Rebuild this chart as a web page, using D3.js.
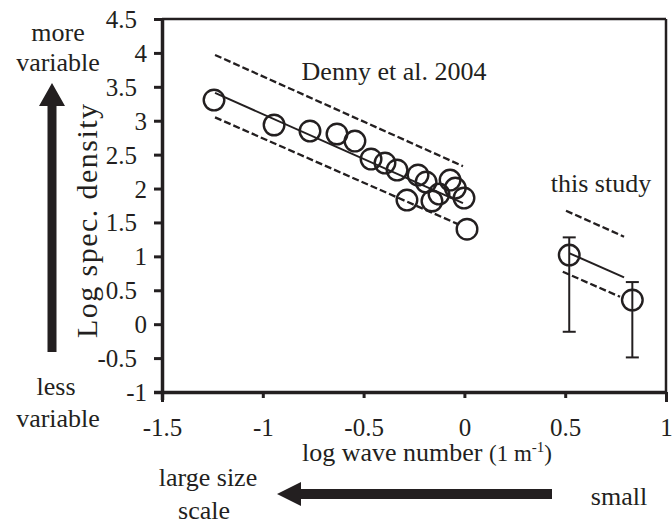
<!DOCTYPE html>
<html>
<head>
<meta charset="utf-8">
<script src="https://cdn.jsdelivr.net/npm/d3@7/dist/d3.min.js"></script>
<style>
  html, body { margin: 0; padding: 0; background: #fff; }
  svg { display: block; }
  text { font-family: "Liberation Serif", "Times New Roman", serif; fill: #231f20; }
</style>
</head>
<body>
<svg id="chart" width="672" height="525"></svg>
<script>
// ---------- data ----------
const xTicks = [-1.5, -1, -0.5, 0, 0.5, 1];
const xTickLabels = ["-1.5", "-1", "-0.5", "0", "0.5", "1"];
const yTicks = [-1, -0.5, 0, 0.5, 1, 1.5, 2, 2.5, 3, 3.5, 4, 4.5];
const yTickLabels = ["-1", "-0.5", "0", "0.5", "1", "1.5", "2", "2.5", "3", "3.5", "4", "4.5"];

// Denny et al. 2004 points
const dennyX = [-1.242, -0.944, -0.766, -0.632, -0.543, -0.463, -0.394, -0.334, -0.230, -0.190, -0.285, -0.161, -0.126, -0.071, -0.045, -0.002, 0.013];
const dennyY = [3.305, 2.937, 2.848, 2.804, 2.70, 2.435, 2.376, 2.273, 2.199, 2.096, 1.83, 1.816, 1.919, 2.125, 2.007, 1.86, 1.40];
// Denny fit and bounds: [x0, x1], [y0, y1]
const dennyFitX = [-1.237, -0.007];
const dennyFitY = [3.41, 1.786];
const dennyUpperX = [-1.237, -0.007];
const dennyUpperY = [3.97, 2.33];
const dennyLowerX = [-1.237, -0.032];
const dennyLowerY = [3.05, 1.476];

// this study
const studyX = [0.520, 0.833];
const studyY = [1.019, 0.356];
const studyErrLow = [-0.112, -0.49];
const studyErrHigh = [1.28, 0.621];
const studyFitX = [0.522, 0.792];
const studyFitY = [1.045, 0.691];
const studyUpperX = [0.504, 0.792];
const studyUpperY = [1.673, 1.29];
const studyLowerX = [0.488, 0.772];
const studyLowerY = [0.773, 0.404];

// ---------- chart ----------
const ink = "#231f20";
const svg = d3.select("#chart");
const x = d3.scaleLinear().domain([-1.5, 1]).range([162, 666]);
const y = d3.scaleLinear().domain([-1, 4.5]).range([392, 19]);

// frame top/right
svg.append("line").attr("x1", x(-1.5)).attr("x2", x(1)).attr("y1", y(4.5)).attr("y2", y(4.5))
  .attr("stroke", ink).attr("stroke-width", 2.5);
svg.append("line").attr("x1", x(1)).attr("x2", x(1)).attr("y1", y(4.5)).attr("y2", y(-1))
  .attr("stroke", ink).attr("stroke-width", 2.5);

// y axis
const yAxis = svg.append("g").attr("transform", `translate(${x(-1.5)},0)`)
  .call(d3.axisLeft(y).tickValues(yTicks).tickSize(8).tickSizeOuter(0)
    .tickFormat((d, i) => yTickLabels[i]));
yAxis.select(".domain").attr("stroke", ink).attr("stroke-width", 3.5)
  .attr("d", `M0.5,${y(4.5) - 1}V${y(-1) + 8}`);
yAxis.selectAll(".tick line").attr("stroke", ink).attr("stroke-width", 3);
yAxis.selectAll(".tick text")
  .attr("x", (d, i) => Number.isInteger(d) ? -15 : -25)
  .attr("dy", "0.34em")
  .style("font-size", "25px").style("font-family", "Liberation Serif").attr("fill", ink);

// x axis
const xAxis = svg.append("g").attr("transform", `translate(0,${y(-1)})`)
  .call(d3.axisBottom(x).tickValues(xTicks).tickSize(6).tickSizeOuter(0)
    .tickFormat((d, i) => xTickLabels[i]));
xAxis.select(".domain").attr("stroke", ink).attr("stroke-width", 3.5)
  .attr("d", `M${x(-1.5) - 8},0.5H${x(1) + 1}`);
xAxis.selectAll(".tick line").attr("stroke", ink).attr("stroke-width", 3)
  .attr("y2", d => (d === -1.5 || d === 1) ? 10 : 6);
xAxis.selectAll(".tick text").attr("y", 35).attr("dy", "0.34em")
  .style("font-size", "25px").style("font-family", "Liberation Serif").attr("fill", ink);

// lines
const line = d3.line().x(d => x(d[0])).y(d => y(d[1]));
function seg(xs, ys, dashed, w) {
  svg.append("path")
    .attr("d", line(xs.map((v, i) => [v, ys[i]])))
    .attr("fill", "none").attr("stroke", ink).attr("stroke-width", w)
    .attr("stroke-dasharray", dashed ? "7,3" : null);
}
seg(dennyUpperX, dennyUpperY, true, 2.3);
seg(dennyLowerX, dennyLowerY, true, 2.3);
seg(dennyFitX, dennyFitY, false, 2);
seg(studyUpperX, studyUpperY, true, 2.3);
seg(studyLowerX, studyLowerY, true, 2.3);
seg(studyFitX, studyFitY, false, 2);

// error bars
const eb = svg.append("g");
studyX.forEach((xv, i) => {
  eb.append("line").attr("x1", x(xv)).attr("x2", x(xv))
    .attr("y1", y(studyErrHigh[i])).attr("y2", y(studyErrLow[i]))
    .attr("stroke", ink).attr("stroke-width", 2);
  [studyErrHigh[i], studyErrLow[i]].forEach(v => {
    eb.append("line").attr("x1", x(xv) - 6.5).attr("x2", x(xv) + 6.5)
      .attr("y1", y(v)).attr("y2", y(v)).attr("stroke", ink).attr("stroke-width", 2);
  });
});

// circles
svg.append("g").selectAll("circle")
  .data(dennyX.map((v, i) => [v, dennyY[i]]).concat(studyX.map((v, i) => [v, studyY[i]])))
  .join("circle")
  .attr("cx", d => x(d[0])).attr("cy", d => y(d[1])).attr("r", 10.3)
  .attr("fill", "none").attr("stroke", ink).attr("stroke-width", 2.4);

// annotations
svg.append("text").attr("x", 394).attr("y", 80).attr("text-anchor", "middle")
  .style("font-size", "26px").text("Denny et al. 2004");
svg.append("text").attr("x", 601).attr("y", 192).attr("text-anchor", "middle")
  .style("font-size", "26px").text("this study");

// axis titles
svg.append("text").attr("transform", "translate(97,221) rotate(-90)")
  .attr("text-anchor", "middle").style("font-size", "30px")
  .attr("textLength", 234).attr("lengthAdjust", "spacing").text("Log spec. density");
const xt = svg.append("text").attr("x", 427).attr("y", 461).attr("text-anchor", "middle")
  .style("font-size", "26px");
xt.append("tspan").text("log wave number ");
xt.append("tspan").style("font-size", "23px").text("(1 m");
xt.append("tspan").style("font-size", "15px").attr("dy", -9).text("-1");
xt.append("tspan").style("font-size", "23px").attr("dy", 9).text(")");

// side labels
function label(tx, ty, s) {
  svg.append("text").attr("x", tx).attr("y", ty).attr("text-anchor", "middle")
    .style("font-size", "26px").text(s);
}
label(58, 41, "more");
label(58, 71, "variable");
label(56, 395, "less");
label(58, 427, "variable");
label(208, 486, "large size");
label(204, 519, "scale");
label(619, 505, "small");

// arrows
svg.append("path")
  .attr("d", `M47.5,352V106H39L52,83L65,106H56.5V352Z`).attr("fill", ink);
svg.append("path")
  .attr("d", `M552,489V499H301V506L277,494L301,482V489Z`).attr("fill", ink);
</script>
</body>
</html>
